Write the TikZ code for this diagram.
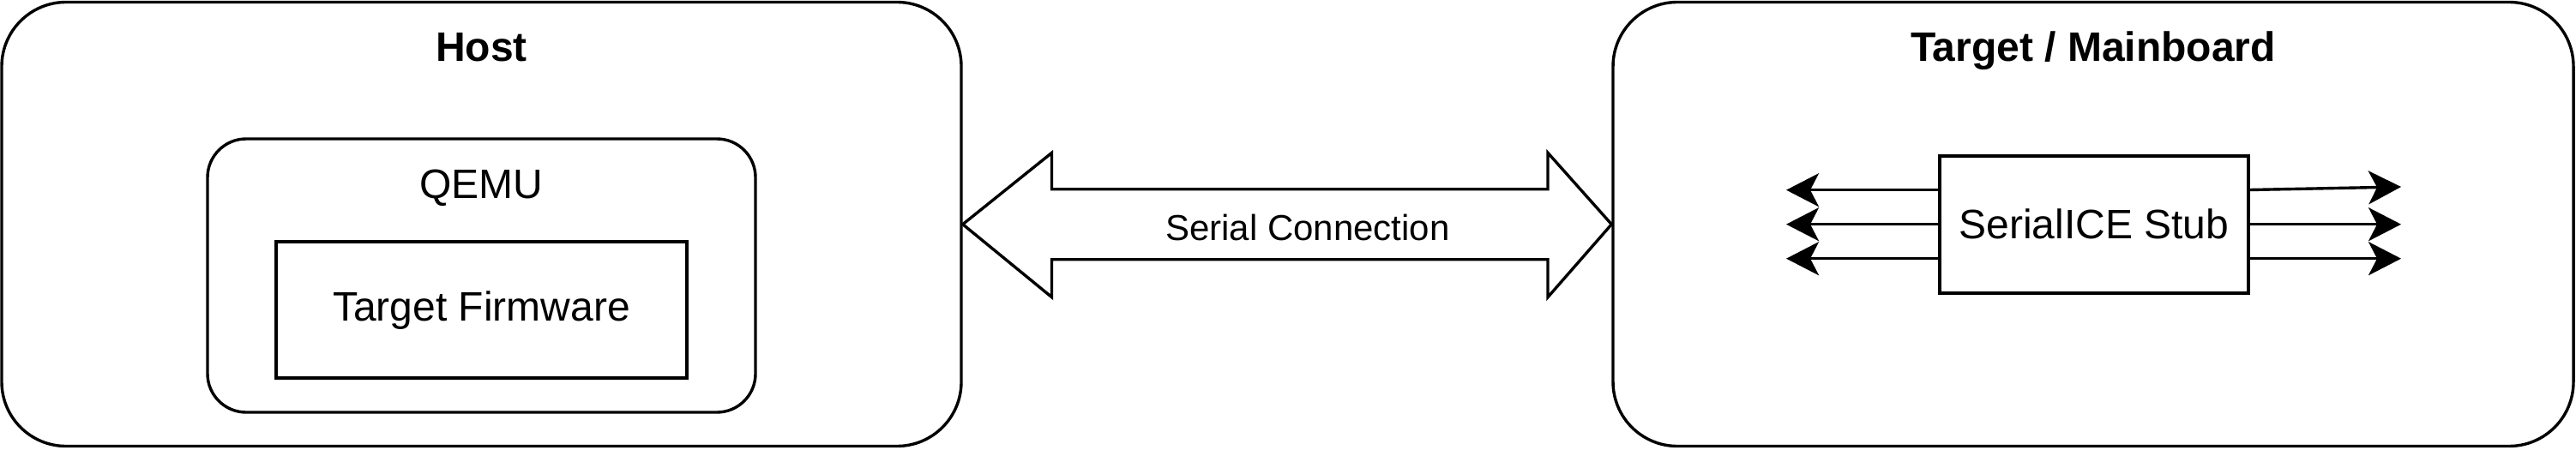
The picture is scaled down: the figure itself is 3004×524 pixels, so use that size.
\documentclass[tikz,border=0pt]{standalone}
\usepackage{fontspec}
\setmainfont{Liberation Sans}
\usetikzlibrary{arrows.meta}
\tikzset{
  lw/.style={line width=0.85pt},
  bigbox/.style={lw, draw, rounded corners=18.75pt, inner sep=0pt},
  midbox/.style={lw, draw, rounded corners=11.25pt, inner sep=0pt},
  plainbox/.style={lw, draw, inner sep=0pt},
  title/.style={font=\fontsize{12pt}{14pt}\selectfont\bfseries, anchor=base, inner sep=0pt},
  lbl/.style={font=\fontsize{12pt}{14pt}\selectfont, inner sep=0pt},
  slbl/.style={font=\fontsize{10.5pt}{12pt}\selectfont, inner sep=0pt},
  sig/.style={lw, -{Stealth[length=9.5pt, width=9.75pt, inset=2.5pt]}},
}
\begin{document}
\begin{tikzpicture}[x=0.25pt, y=-0.25pt]
\useasboundingbox (0,0) rectangle (3004,524);
% Host
\node[bigbox, minimum width=279.75pt, minimum height=129.5pt] (host) at (561.5,261.5) {};
\node[title] (hosttitle) at (561.5,72) {Host};
\node[midbox, minimum width=159.75pt, minimum height=79.75pt] (qemu) at (561.5,321.5) {};
\node[lbl, anchor=base] (qemutitle) at (561.5,231) {QEMU};
\node[plainbox, minimum width=119.75pt, minimum height=39.75pt] (fw) at (561.5,361.5) {};
\node[lbl, anchor=base] (fwtext) at (561.5,374) {Target Firmware};
% Target
\node[bigbox, minimum width=280pt, minimum height=129.5pt] (target) at (2441,261.5) {};
\node[title] (targettitle) at (2441,72) {Target / Mainboard};
\node[plainbox, minimum width=90pt, minimum height=40pt] (stub) at (2442,262) {};
\node[lbl] (stubtext) at (2442,261) {SerialICE Stub};
% Serial connection double arrow
\draw[lw, line join=miter] (host.east |- 0,261.7) coordinate (sa)
  -- (1226.5,178.3) -- (1226.5,220.7) -- (1805,220.7) -- (1805,178.3)
  -- (target.west |- 0,261.7) coordinate (sb)
  -- (1805,346.7) -- (1805,302.7) -- (1226.5,302.7) -- (1226.5,346.7) -- cycle;
\node[slbl] (serial) at (1525,265) {Serial Connection};
% signal arrows
\coordinate (l1) at (2083,221.7);
\coordinate (l2) at (2083,261.7);
\coordinate (l3) at (2083,301.7);
\coordinate (r1) at (2800,218);
\coordinate (r2) at (2800,261.7);
\coordinate (r3) at (2800,301.7);
\draw[sig] (stub.west |- l1) -- (l1);
\draw[sig] (stub.west |- l2) -- (l2);
\draw[sig] (stub.west |- l3) -- (l3);
\draw[sig] (stub.east |- 0,221.5) -- (r1);
\draw[sig] (stub.east |- r2) -- (r2);
\draw[sig] (stub.east |- r3) -- (r3);
\end{tikzpicture}
\end{document}
